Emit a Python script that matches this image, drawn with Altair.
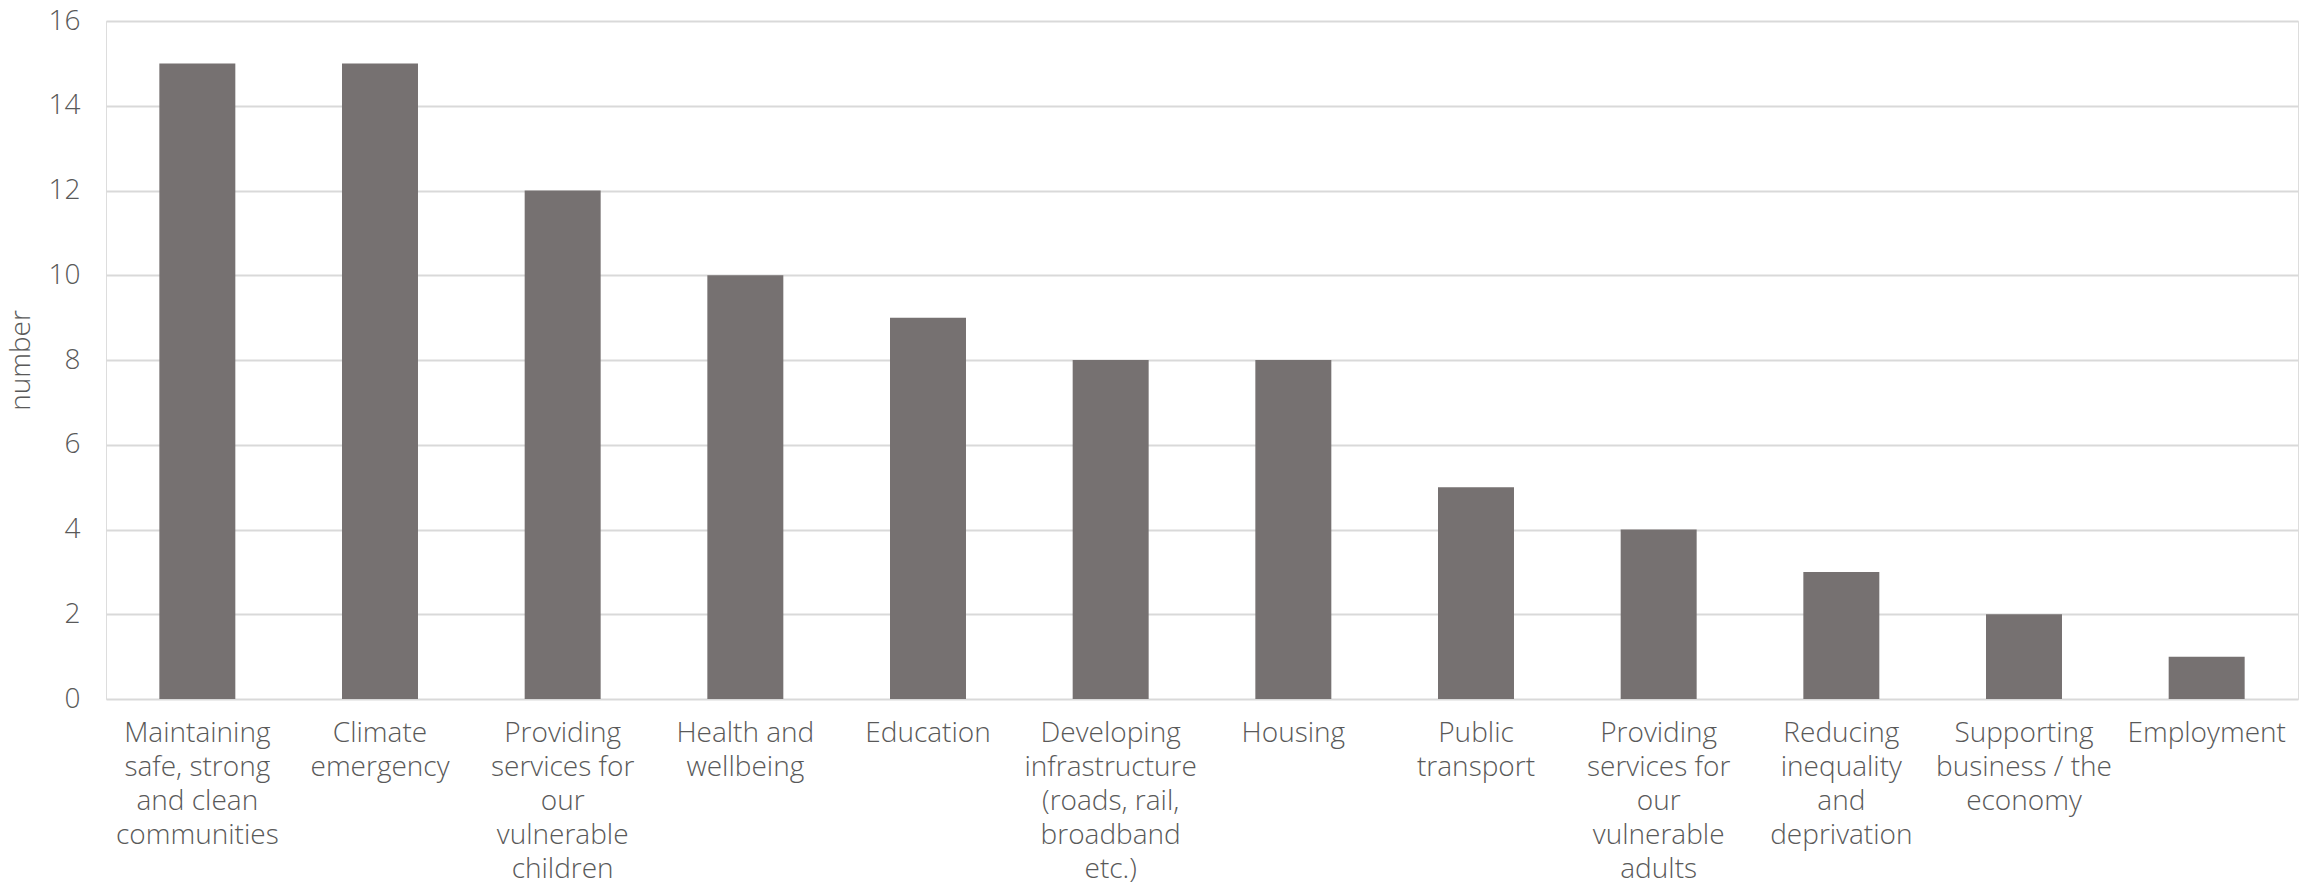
import altair as alt
import pandas as pd

categories = [
    "Maintaining|safe, strong|and clean|communities",
    "Climate|emergency",
    "Providing|services for|our|vulnerable|children",
    "Health and|wellbeing",
    "Education",
    "Developing|infrastructure|(roads, rail,|broadband|etc.)",
    "Housing",
    "Public|transport",
    "Providing|services for|our|vulnerable|adults",
    "Reducing|inequality|and|deprivation",
    "Supporting|business / the|economy",
    "Employment",
]
values = [15, 15, 12, 10, 9, 8, 8, 5, 4, 3, 2, 1]
y_ticks = [0, 2, 4, 6, 8, 10, 12, 14, 16]

df = pd.DataFrame({"category": categories, "number": values})

FONT = "Open Sans"
TXT = "#595959"
FS = 28

chart = (
    alt.Chart(df)
    .mark_bar(color="#767171")
    .encode(
        x=alt.X(
            "category:N",
            sort=categories,
            scale=alt.Scale(paddingInner=0.584, paddingOuter=0.292),
            axis=alt.Axis(
                title=None,
                labelExpr="split(datum.value, '|')",
                labelAngle=0,
                labelAlign="center",
                labelBaseline="top",
                labelFont=FONT,
                labelFontSize=FS,
                labelFontWeight=300,
                labelLineHeight=34,
                labelColor=TXT,
                labelPadding=20,
                ticks=False,
                domain=False,
                labelLimit=0,
            ),
        ),
        y=alt.Y(
            "number:Q",
            scale=alt.Scale(domain=[0, 16], nice=False),
            axis=alt.Axis(
                title="number",
                values=y_ticks,
                titleFont=FONT,
                titleFontSize=FS,
                titleFontWeight=300,
                titleColor=TXT,
                titleAngle=-90,
                titleX=-85,
                titleY=339,
                titleBaseline="middle",
                titleAlign="center",
                labelFont=FONT,
                labelFontSize=FS,
                labelFontWeight=300,
                labelColor=TXT,
                labelPadding=26,
                ticks=False,
                domain=False,
                gridColor="#d9d9d9",
                gridWidth=2,
            ),
        ),
    )
    .properties(
        width=2192,
        height=678,
        autosize=alt.AutoSizeParams(type="none"),
        padding={"left": 106, "top": 21, "right": 23, "bottom": 189},
    )
    .configure_view(stroke=None)
    .configure(background="white")
)

chart.save("out.html", embed_options={"renderer": "svg", "actions": False})
